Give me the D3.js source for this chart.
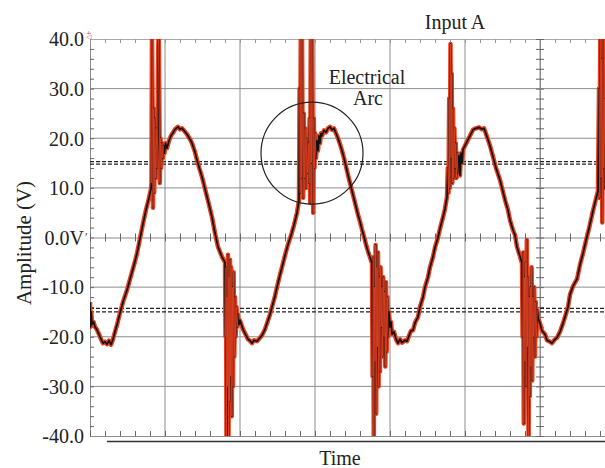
<!DOCTYPE html>
<html>
<head>
<meta charset="utf-8">
<script src="https://cdn.jsdelivr.net/npm/d3@7"></script>
<style>
  body { margin: 0; background: #fff; }
</style>
</head>
<body>
<script>
// oscilloscope trace, sample index (0..525, 75 per division) vs volts
const trough1 = [[0,-13],[0.6,-18],[1.2,-15],[2,-17.5],[3.5,-17],[5,-18],[7,-18.6],[9,-19.5],[11,-20.5],[13,-21.3],[15,-21],[17,-21.5],[19,-20.8],[21,-21.6],[23,-20.5],[25,-19],[27,-17.6],[30,-15.2],[33,-13],[35,-11.8],[37,-10.6],[40,-8.4],[42,-7],[45,-4.8],[47,-3.2],[50,-0.2],[53,2.8],[56,5.6],[59,8],[61,9.8]];
const arc1 = [[61.5,11],[62,42],[62.5,28],[63,6],[63.6,26],[64.2,9],[64.9,24],[65.6,12],[66.3,22],[67,14],[67.6,20],[68.2,38],[68.7,42],[69.2,30],[69.8,11],[70.5,20],[71.2,14],[72,19],[72.8,16],[73.5,18.5],[74.5,17],[75.5,19],[77,18],[79,19.5],[81,20.5],[83,21.1],[85,21.8],[88,22.3],[90,21.8],[92,22],[95,21.3],[97,20.8],[100,19.8],[102,19],[105,17.2],[107,15.6],[109,14.2],[112,12.2],[114,10.6],[117,8.2],[119,6.6],[122,4.1],[125,0.9],[128,-1.9],[132,-3.9],[135,-5]];
const arc2 = [[135.5,-20],[136,-6],[136.5,-42],[137,-12],[137.5,-30],[138,-3.5],[138.5,-42],[139,-8],[139.5,-33],[140,-4.5],[140.6,-28],[141.2,-6],[141.8,-36],[142.4,-10],[143,-30],[143.6,-7],[144.3,-24],[145,-12],[145.7,-20],[146.5,-14],[147.3,-18],[148,-15.5],[149,-17.5],[150,-16.7],[153,-18.5],[155,-19.3],[158,-20.5],[160,-20.8],[162,-21.3],[164,-20.7],[167,-20.9],[170,-20.2],[172,-19.7],[175,-18.5],[177,-17.3],[180,-15.5],[182,-14],[185,-11.8],[187,-10],[190,-7.5],[192,-6],[195,-3.6],[198,-1.4],[201,0.4],[204,2.5],[207,5],[209,7.5]];
const arc3 = [[209.6,30],[210.2,9],[210.8,42],[211.4,12],[212,42],[212.6,18],[213.2,8],[213.8,25],[214.5,12],[215.2,22],[216,10],[216.8,20],[217.5,13],[218.3,19],[219,11],[219.6,24],[220.2,7],[220.8,42],[221.4,15],[222,42],[222.6,20],[223.2,5],[223.8,24],[224.5,14],[225.2,21],[226,16],[227,19.5],[228,17.5],[229,20.5],[230,19],[231,21],[232,20.5],[234,21.6],[236,21.2],[238,22],[240,22.3],[242,21.7],[244,22],[246,21],[248,20],[250,18.8],[252,17.5],[254,16],[256,14.3],[258,12.6],[260,11],[262,9.4],[264,7.8],[266,6.2],[268,4.6],[270,3.2],[272,1.6],[274,0.2],[276,-1.4],[278,-2.8],[280,-4],[282,-5.2]];
const arc4 = [[282.6,-28],[283.2,-4],[283.8,-42],[284.4,-10],[285,-25],[285.6,-1.5],[286.2,-35.5],[286.8,-6],[287.4,-22],[288,-3],[288.6,-30],[289.2,-8],[290,-27],[290.6,-6],[291.3,-18],[292,-10],[292.7,-24],[293.3,-8],[294,-20],[294.7,-11],[295.3,-26],[296,-9],[296.7,-23],[297.4,-12],[298,-20],[299,-15],[300,-18],[301,-17],[302,-19.5],[304,-19],[306,-20.5],[308,-21.3],[310,-20.5],[312,-21.2],[315,-20.7],[317,-20.9],[319,-19.8],[321,-18.8],[323,-18.7],[325,-17.2],[328,-16],[330,-14],[333,-12],[335,-10],[338,-8],[340,-6],[343,-3.9],[345,-2],[348,0],[350,1.8],[353,4.1],[355,5.8],[357,8.2]];
const arc5 = [[357.8,14],[358.5,9],[359.2,28],[359.8,10],[360.5,39],[361.1,16],[361.7,33],[362.3,11],[363,26],[363.7,12],[364.4,22],[365.1,14],[365.8,19],[366.5,12],[367.2,17],[368,13],[369,16.5],[370,12.5],[371,17],[372,15],[373,17.7],[375,18.5],[378,19.7],[380,20.5],[383,21.7],[386,22],[389,22.2],[392,21.8],[394,22],[397,20.3],[400,18.5],[403,16.3],[406,14],[410,11.6],[412,10],[415,7.6],[418,5.5],[420,3.5],[423,1.5],[425,0.5],[427,-1.9],[430,-3.8],[432,-5.2]];
const arc6 = [[432.6,-20],[433.2,-3],[433.8,-37.5],[434.4,-8],[435,-25],[435.6,-5],[436.2,-30],[436.8,-0.5],[437.4,-22],[438,-8],[438.6,-42],[439.2,-12],[439.8,-32],[440.4,-10],[441,-26],[441.6,-6],[442.2,-28.8],[442.8,-12],[443.5,-20],[444.2,-10],[445,-24],[445.8,-13],[446.5,-20],[447.3,-14.6],[448.5,-16.5],[450,-17.3],[452,-18.8],[455,-19.5],[457,-20.7],[460,-21],[462,-21.3],[465,-20.5],[467,-20.2],[470,-19],[473,-17.3],[475,-16],[478,-14],[480,-11.5],[483,-9.8],[487,-8.4],[490,-5.5],[493,-3.2],[496,-0.6],[499,1.8],[503,5.4],[506,7.8],[508,9.4]];
const arc7 = [[509,30],[509.6,8],[510.3,42],[511,12],[511.6,36],[512.3,3],[513,42],[513.6,14],[514.3,28],[515,10],[516,25],[517,12],[518,38],[519,15],[520,30],[521,12]];

const voltTicks = [40, 30, 20, 10, 0, -10, -20, -30, -40];
const voltLabels = ["40.0", "30.0", "20.0", "10.0", "0.0V", "-10.0", "-20.0", "-30.0", "-40.0"];
const thresholds = [15.3, 14.8, -14.3, -15.0];
const divisions = [75, 150, 225, 300, 375, 450];

const arcs = [arc1, arc2, arc3, arc4, arc5, arc6, arc7];
const trace = [].concat(trough1, ...arcs);

const serif = "'Liberation Serif', 'Times New Roman', Times, 'DejaVu Serif', serif";

const svg = d3.select("body").append("svg")
    .attr("width", 605)
    .attr("height", 468)
    .style("font-family", serif);

const x = d3.scaleLinear().domain([0, 525]).range([90, 615]);
const y = d3.scaleLinear().domain([-40, 40]).range([436, 39]);

svg.append("defs").append("clipPath").attr("id", "plot")
  .append("rect")
    .attr("x", 90).attr("y", 39)
    .attr("width", 525).attr("height", 397);

// grid
svg.append("g")
  .selectAll("line")
  .data(voltTicks.filter(v => v !== 0 && Math.abs(v) !== 40))
  .join("line")
    .attr("x1", 90).attr("x2", 615)
    .attr("y1", d => y(d)).attr("y2", d => y(d))
    .attr("stroke", "#8c8c8c");

svg.append("g")
  .selectAll("line")
  .data(divisions)
  .join("line")
    .attr("x1", d => x(d)).attr("x2", d => x(d))
    .attr("y1", 39).attr("y2", 436)
    .attr("stroke", "#8c8c8c");

// border + centre axes with minor ticks
const minorV = d3.range(-40, 41, 2);
const minorT = d3.range(0, 526, 15);

const styleAxis = g => {
  g.select(".domain").attr("stroke", "#8c8c8c");
  g.selectAll(".tick line").attr("stroke", "#666");
};

svg.append("g")
    .attr("transform", "translate(90,0)")
    .call(d3.axisRight(y).tickValues(minorV).tickSize(4).tickSizeOuter(0).tickFormat(""))
    .call(styleAxis);

svg.append("g")
    .attr("transform", "translate(0,39)")
    .call(d3.axisBottom(x).tickValues(minorT).tickSize(4).tickSizeOuter(0).tickFormat(""))
    .call(g => g.select(".domain").attr("stroke", "#aaa"))
    .call(g => g.selectAll(".tick line").attr("stroke", "#999"));

svg.append("g")
    .attr("transform", "translate(0,436)")
    .call(d3.axisTop(x).tickValues(minorT).tickSize(5).tickSizeOuter(0).tickFormat(""))
    .call(styleAxis);

svg.append("g")
    .attr("transform", `translate(0,${y(0)})`)
    .call(d3.axisBottom(x).tickValues(minorT).tickSize(4).tickSizeOuter(0).tickFormat(""))
    .call(styleAxis)
    .call(g => g.selectAll(".tick line").attr("y1", -4));

svg.append("g")
    .attr("transform", `translate(${x(450)},0)`)
    .call(d3.axisRight(y).tickValues(minorV).tickSize(4).tickSizeOuter(0).tickFormat(""))
    .call(styleAxis)
    .call(g => g.selectAll(".tick line").attr("x1", -4));

svg.append("line")
    .attr("x1", 107).attr("x2", 605)
    .attr("y1", 441.5).attr("y2", 441.5)
    .attr("stroke", "#333")
    .attr("stroke-width", 1.5);

// trigger levels
svg.append("g")
  .selectAll("line")
  .data(thresholds)
  .join("line")
    .attr("x1", 90).attr("x2", 615)
    .attr("y1", d => y(d)).attr("y2", d => y(d))
    .attr("stroke", "#222")
    .attr("stroke-width", 1.3)
    .attr("stroke-dasharray", "4,2");

// trace
const line = d3.line().x(d => x(d[0])).y(d => y(d[1]));
const tr = svg.append("g").attr("clip-path", "url(#plot)");

tr.append("path")
    .datum(trace)
    .attr("d", line)
    .attr("fill", "none")
    .attr("stroke", "#e8401f")
    .attr("stroke-width", 4.5)
    .attr("stroke-linejoin", "round");

tr.append("path")
    .datum(trace)
    .attr("d", line)
    .attr("fill", "none")
    .attr("stroke", "#111")
    .attr("stroke-width", 1.7)
    .attr("stroke-linejoin", "round");

// the dense burst part of each arc is mostly red on the scope
const bursts = arcs.map(a => {
  const end = a.findIndex((p, i) => i > 0 && p[0] - a[i - 1][0] >= 0.95);
  return end < 0 ? a : a.slice(0, end);
});

tr.selectAll(".burst")
  .data(bursts)
  .join("path")
    .attr("class", "burst")
    .attr("d", line)
    .attr("fill", "none")
    .attr("stroke", "#e8401f")
    .attr("stroke-width", 0.8)
    .attr("stroke-linejoin", "round");

// electrical arc marker
svg.append("circle")
    .attr("cx", x(222))
    .attr("cy", y(17))
    .attr("r", x(51) - x(0))
    .attr("fill", "none")
    .attr("stroke", "#222")
    .attr("stroke-width", 1.2);

// y tick labels
svg.append("g")
    .attr("transform", "translate(84,0)")
    .call(d3.axisLeft(y).tickValues(voltTicks).tickSize(0).tickPadding(0)
      .tickFormat((d, i) => voltLabels[i]))
    .attr("font-family", serif)
    .attr("font-size", 20)
    .call(g => g.select(".domain").remove())
    .call(g => g.selectAll("text")
      .attr("fill", "#222")
      .attr("dy", "0.34em"));

svg.append("text")
    .attr("x", 85).attr("y", y(0) + 3)
    .attr("font-size", 13)
    .attr("fill", "#555")
    .text("′");

svg.append("text")
    .attr("transform", "translate(87,31) rotate(90)")
    .attr("font-size", 7)
    .attr("fill", "#c46")
    .text("4▽");

// texts
svg.append("text")
    .attr("transform", "translate(31,243) rotate(-90)")
    .attr("text-anchor", "middle")
    .attr("font-size", 21)
    .attr("fill", "#222")
    .text("Amplitude (V)");

svg.append("text")
    .attr("x", 340).attr("y", 465)
    .attr("text-anchor", "middle")
    .attr("font-size", 20)
    .attr("fill", "#222")
    .text("Time");

svg.append("text")
    .attr("x", 455).attr("y", 29)
    .attr("text-anchor", "middle")
    .attr("font-size", 20)
    .attr("fill", "#222")
    .text("Input A");

svg.append("text")
    .attr("x", 367).attr("y", 84)
    .attr("text-anchor", "middle")
    .attr("font-size", 20)
    .attr("fill", "#222")
    .text("Electrical");

svg.append("text")
    .attr("x", 368).attr("y", 105)
    .attr("text-anchor", "middle")
    .attr("font-size", 20)
    .attr("fill", "#222")
    .text("Arc");
</script>
</body>
</html>
